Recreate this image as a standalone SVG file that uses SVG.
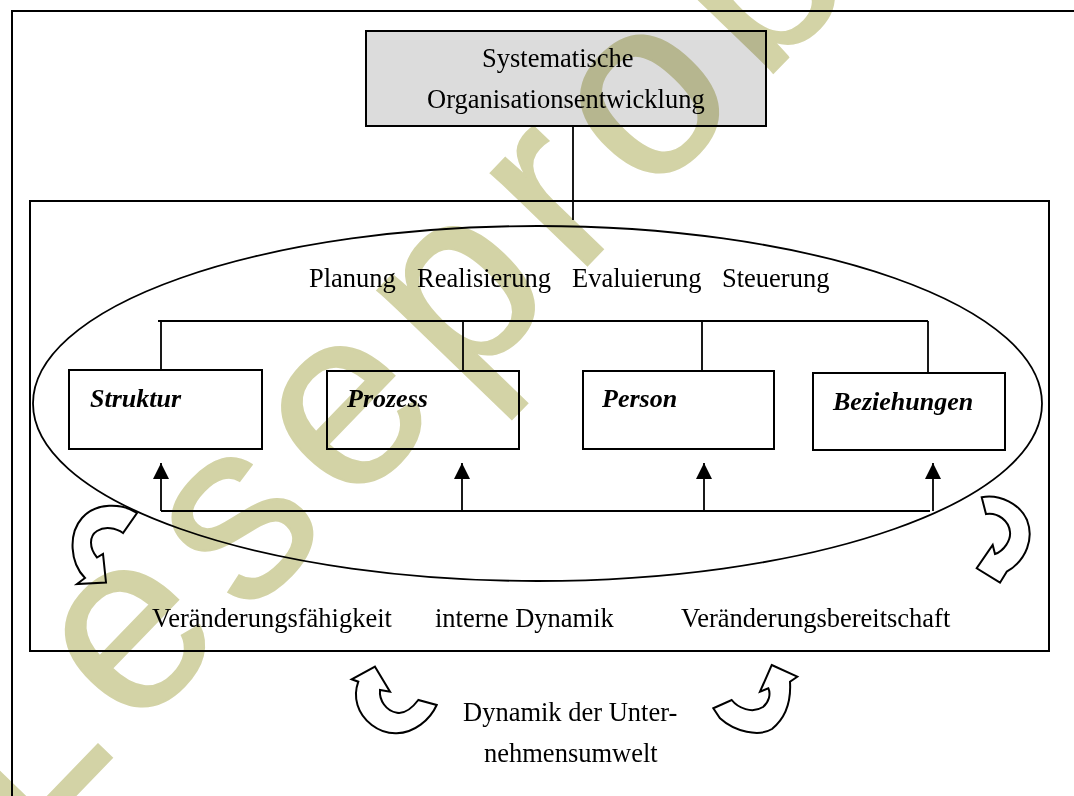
<svg xmlns="http://www.w3.org/2000/svg" width="1074" height="796" viewBox="0 0 1074 796">
  <style>
    .frame { fill: none; stroke: #000; stroke-width: 2; }
    .box { fill: #fff; stroke: #000; stroke-width: 2; }
    .head { fill: #dcdcdc; stroke: #000; stroke-width: 2; }
    .line { fill: none; stroke: #000; stroke-width: 1.8; }
    .turn { fill: #fff; stroke: #000; stroke-width: 2; stroke-linejoin: miter; }
    .t { font-family: "Liberation Serif", "Times New Roman", serif; font-size: 26.5px; fill: #000; }
    .b { font-family: "Liberation Serif", "Times New Roman", serif; font-size: 26px; font-weight: bold; font-style: italic; fill: #000; }
    .wm { font-family: "Liberation Sans", Arial, sans-serif; font-size: 253px; letter-spacing: 22px; fill: #d3d3a6; stroke: #d3d3a6; stroke-width: 2; }
  </style>
  <defs>
    <marker id="tip" viewBox="0 0 10 10" refX="10" refY="5" markerWidth="16" markerHeight="16" markerUnits="userSpaceOnUse" orient="auto">
      <path d="M0,0 L10,5 L0,10 Z" fill="#000"/>
    </marker>
  </defs>

  <rect width="1074" height="796" fill="#fff"/>

  <!-- page frame (open to the right and bottom) -->
  <path class="frame" d="M12,796 V11 H1074"/>

  <!-- outer area frame and ellipse -->
  <g id="area">
    <rect class="frame" x="30" y="201" width="1019" height="450"/>
    <ellipse class="line" cx="537.5" cy="403.5" rx="504.5" ry="177.5" stroke-width="1.6"/>
  </g>

  <g id="top">
    <rect class="head" x="366" y="31" width="400" height="95"/>
    <text class="t" x="482" y="67">Systematische</text>
    <text class="t" x="427" y="108">Organisationsentwicklung</text>
  </g>

  <g id="phases">
    <text class="t" x="309" y="287">Planung</text>
    <text class="t" x="417" y="287">Realisierung</text>
    <text class="t" x="572" y="287">Evaluierung</text>
    <text class="t" x="722" y="287">Steuerung</text>
  </g>

  <g id="struktur">
    <rect class="box" x="69" y="370" width="193" height="79"/>
    <text class="b" x="90" y="407">Struktur</text>
  </g>
  <g id="prozess">
    <rect class="box" x="327" y="371" width="192" height="78"/>
    <text class="b" x="347" y="407">Prozess</text>
  </g>
  <g id="person">
    <rect class="box" x="583" y="371" width="191" height="78"/>
    <text class="b" x="602" y="407">Person</text>
  </g>
  <g id="beziehungen">
    <rect class="box" x="813" y="373" width="192" height="77"/>
    <text class="b" x="833" y="410">Beziehungen</text>
  </g>

  <g id="connectors">
    <line class="line" x1="573" y1="126" x2="573" y2="220"/>
    <path class="line" d="M158,321 H928 M161,321 V370 M463,321 V371 M702,321 V371 M928,321 V373"/>
    <path class="line" d="M161,511 H930"/>
    <line class="line" x1="161" y1="511" x2="161" y2="463" marker-end="url(#tip)"/>
    <line class="line" x1="462" y1="511" x2="462" y2="463" marker-end="url(#tip)"/>
    <line class="line" x1="704" y1="511" x2="704" y2="463" marker-end="url(#tip)"/>
    <line class="line" x1="933" y1="511" x2="933" y2="463" marker-end="url(#tip)"/>
  </g>

  <!-- circular block arrows -->
  <g id="turn-left">
    <path class="turn" d="M137,513 C122,503 96,502 82,518 C68,534 70,563 85,578 L77,584 L106,582.5 L103,554 L97,557.5 C89,548 89,536 97,531 C105,526 116,528 123,533 Z"/>
  </g>
  <g id="turn-right">
    <path class="turn" d="M981.7,497.3 C1000,494 1020,504 1027,520 C1034,538 1027,560 1006.7,571.7 L1000,582.7 L976.7,568.3 L992.7,545 L995,554 C1004,551 1011,540 1010,532 C1009,521 998,512 986,514 Z"/>
  </g>
  <g id="turn-bottom-left">
    <path class="turn" d="M375,666.7 L390,691.7 L380,690 C379,700 386,711 397,712.7 C405,714 413,707 418.3,700 L436.7,705 C430,720 414,733 396.7,733.3 C378,734 362,720 357.5,705 C355,697 356,688 358.3,681.7 L351.7,679.3 Z"/>
  </g>
  <g id="turn-bottom-right">
    <path class="turn" d="M771.7,665 L797.3,676.7 L790,681.7 C791,698 788,716 772,729 C759,737 735,732 720,718.3 L713.3,708.3 L731.7,700 C738,708 752,714 763,707 C769,702 771,694 768.3,688.3 L760,691.7 Z"/>
  </g>

  <g id="dynamics">
    <text class="t" x="152" y="627">Veränderungsfähigkeit</text>
    <text class="t" x="435" y="627">interne Dynamik</text>
    <text class="t" x="681" y="627">Veränderungsbereitschaft</text>
  </g>

  <g id="environment">
    <text class="t" x="463" y="721">Dynamik der Unter-</text>
    <text class="t" x="484" y="762">nehmensumwelt</text>
  </g>

  <!-- diagonal stamp laid over the page -->
  <g style="mix-blend-mode: multiply">
    <text class="wm" transform="translate(20,853) rotate(-46)" x="0" y="0">Leseprobe</text>
  </g>
</svg>
